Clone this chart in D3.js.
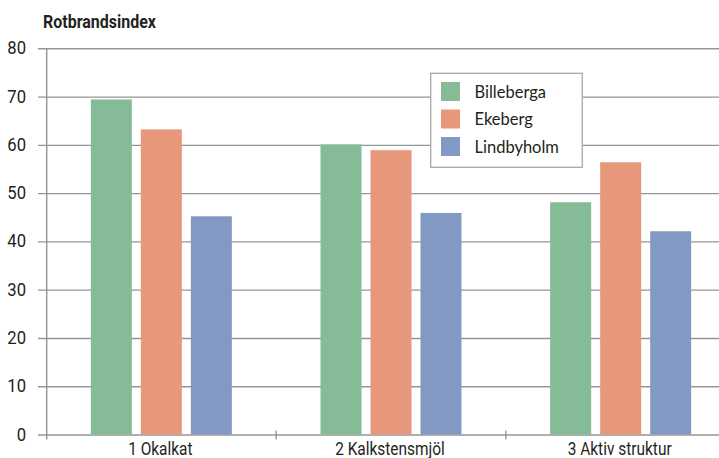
<!DOCTYPE html>
<html>
<head>
<meta charset="utf-8">
<script src="https://cdn.jsdelivr.net/npm/d3@7"></script>
<style>
  html, body { margin: 0; padding: 0; background: #fff; }
  svg { display: block; }
</style>
</head>
<body>
<svg id="chart" width="719" height="458"></svg>
<script>
const categories = ["1 Okalkat", "2 Kalkstensmjöl", "3 Aktiv struktur"];
const seriesNames = ["Billeberga", "Ekeberg", "Lindbyholm"];
const billeberga = [69.4, 60.1, 48.1];
const ekeberg = [63.2, 58.9, 56.4];
const lindbyholm = [45.2, 45.9, 42.1];
const yTicks = [0, 10, 20, 30, 40, 50, 60, 70, 80];
const colors = ["#85bb96", "#e7987a", "#8299c3"];
const title = "Rotbrandsindex";

const seriesValues = [billeberga, ekeberg, lindbyholm];
const data = categories.map((c, i) => ({
  category: c,
  values: seriesNames.map((s, j) => ({ series: s, value: seriesValues[j][i] }))
}));

const svg = d3.select("#chart");
const textColor = "#231f20";
const gridColor = "#959595";
const condFont = "Roboto, 'Liberation Sans', sans-serif";

// horizontally condense a group of text to match a target width of a reference element
function condense(sel, refIndex, targetWidth, anchor) {
  const nodes = sel.nodes();
  const w = nodes[refIndex].getComputedTextLength();
  const k = Math.min(1, targetWidth / w);
  sel.each(function () {
    const t = d3.select(this);
    const px = +t.attr("data-x"), py = +t.attr("data-y");
    t.attr("x", 0).attr("y", 0).attr("transform", `translate(${px},${py}) scale(${k},1)`);
  });
}

const y = d3.scaleLinear().domain([0, 80]).range([434.5, 48.3]);
const x0 = d3.scaleBand().domain(categories).range([46.5, 735.5]).paddingInner(0).paddingOuter(0);
const x1 = d3.scaleBand().domain(seriesNames).range([-70.5, 70.5]).paddingInner(0.18).paddingOuter(0);
const color = d3.scaleOrdinal().domain(seriesNames).range(colors);

// gridlines with left ticks
const yAxis = d3.axisLeft(y).tickValues(yTicks).tickSize(-(719 - 38)).tickPadding(0).tickFormat(d3.format("d"));
const gy = svg.append("g").attr("transform", "translate(38,0)").call(yAxis);
gy.select(".domain").remove();
gy.selectAll(".tick line").attr("stroke", gridColor).attr("stroke-width", 1.4);
gy.selectAll(".tick text").remove();

// y labels
const yl = svg.append("g").selectAll("text").data(yTicks).join("text")
  .attr("data-x", 26).attr("data-y", d => y(d) + 6)
  .attr("text-anchor", "end")
  .attr("font-family", condFont)
  .attr("font-size", 17.5)
  .attr("fill", textColor)
  .text(d => d);
condense(yl, 8, 18.7);

// y axis line
svg.append("line")
  .attr("x1", 46.7).attr("x2", 46.7)
  .attr("y1", y(80)).attr("y2", y(0) + 5)
  .attr("stroke", gridColor).attr("stroke-width", 1.4);

// x axis ticks at band boundaries
const boundaries = categories.slice(1).map(c => x0(c));
svg.append("g").selectAll("line").data(boundaries).join("line")
  .attr("x1", d => d).attr("x2", d => d)
  .attr("y1", y(0) - 4).attr("y2", y(0) + 5)
  .attr("stroke", gridColor).attr("stroke-width", 1.4);

// bars
const groups = svg.append("g").selectAll("g").data(data).join("g")
  .attr("transform", d => `translate(${x0(d.category) + x0.bandwidth() / 2},0)`);
groups.selectAll("rect").data(d => d.values).join("rect")
  .attr("x", d => x1(d.series))
  .attr("width", x1.bandwidth())
  .attr("y", d => y(d.value))
  .attr("height", d => y(0) - y(d.value))
  .attr("fill", d => color(d.series));

// x labels
const xl = svg.append("g").selectAll("text").data(categories).join("text")
  .attr("data-x", d => x0(d) + x0.bandwidth() / 2 - 1)
  .attr("data-y", 454.5)
  .attr("text-anchor", "middle")
  .attr("font-family", condFont)
  .attr("font-size", 17.5)
  .attr("fill", textColor)
  .text(d => d);
condense(xl, 2, 104);

// title
const tt = svg.append("text")
  .attr("data-x", 43).attr("data-y", 28)
  .attr("font-family", condFont)
  .attr("font-size", 18)
  .attr("font-weight", "bold")
  .attr("fill", textColor)
  .text(title);
condense(tt, 0, 113);

// legend
const lg = svg.append("g");
lg.append("rect")
  .attr("x", 430.7).attr("y", 73.3).attr("width", 151.6).attr("height", 94)
  .attr("fill", "#fff").attr("stroke", "#a8a8a8").attr("stroke-width", 1.3);
const items = lg.selectAll("g.item").data(seriesNames).join("g")
  .attr("class", "item")
  .attr("transform", (d, i) => `translate(441,${82 + i * 27.5})`);
items.append("rect").attr("width", 19).attr("height", 19).attr("fill", d => color(d));
const lt = items.append("text")
  .attr("data-x", 33.5).attr("data-y", 15.5)
  .attr("font-family", "Lato, sans-serif")
  .attr("font-size", 16.5)
  .attr("fill", textColor)
  .text(d => d);
condense(lt, 2, 98);
</script>
</body>
</html>
